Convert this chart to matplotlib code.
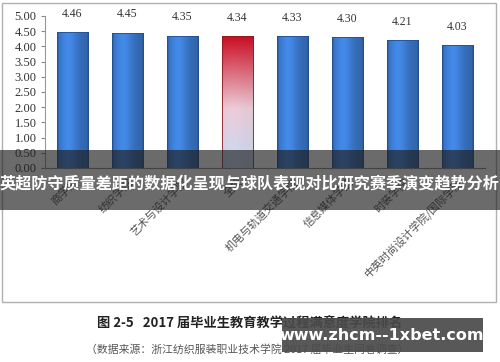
import numpy as np
import matplotlib
matplotlib.use("Agg")
import matplotlib.pyplot as plt
from matplotlib.patches import Rectangle

categories = ["商学院", "纺织学院", "艺术与设计学院", "全校", "机电与轨道交通学院",
              "信息媒体学院", "时装学院", "中英时尚设计学院/国际学院"]
values = [4.46, 4.45, 4.35, 4.34, 4.33, 4.30, 4.21, 4.03]
highlight = [False, False, False, True, False, False, False, False]
yticks = [0.0, 0.5, 1.0, 1.5, 2.0, 2.5, 3.0, 3.5, 4.0, 4.5, 5.0]
title = "英超防守质量差距的数据化呈现与球队表现对比研究赛季演变趋势分析"
caption = "图 2-5   2017 届毕业生教育教学过程满意度学院排名"
source = "（数据来源：浙江纺织服装职业技术学院 2017 届毕业生问卷调查）"
watermark = "www.zhcm--1xbet.com"

cjk = ["Noto Sans CJK SC", "DejaVu Sans"]
serif = ["Liberation Serif", "DejaVu Serif"]

fig = plt.figure(figsize=(5.0, 3.62), dpi=100)
fig.patch.set_facecolor("white")

# outer frame
fig.patches.append(Rectangle((2/500, 1-302/362), 494/500, 299/362, transform=fig.transFigure,
                             fill=False, edgecolor="#b0b0b0", lw=1.0, zorder=0))

ax = fig.add_axes([45/500, 1-168/362, 440/500, 152/362])
x = np.arange(len(values))
bars = ax.bar(x, values, width=0.58, color="#3f80d0", edgecolor="#24508f", linewidth=0.6, zorder=2)

# gradients
n = 64
u = np.linspace(0, 1, n)
hshade = 0.82 + 0.28 * np.exp(-((u - 0.35) / 0.3) ** 2)
hshade[:3] *= 0.8
hshade[-3:] *= 0.8
blue = np.array([0.24, 0.49, 0.83])
for b, hl in zip(bars, highlight):
    x0, w, h = b.get_x(), b.get_width(), b.get_height()
    if hl:
        v = np.linspace(0, 1, n)[:, None]  # 0 top -> 1 bottom
        top = np.array([0.80, 0.06, 0.14])
        mid = np.array([0.93, 0.80, 0.85])
        bot = np.array([0.78, 0.86, 0.96])
        t1 = np.clip(v / 0.55, 0, 1)
        t2 = np.clip((v - 0.55) / 0.45, 0, 1)
        col = np.where(v[..., None] < 0.55,
                       top * (1 - t1[..., None]) + mid * t1[..., None],
                       mid * (1 - t2[..., None]) + bot * t2[..., None])
        col = col * (0.9 + 0.1 * hshade[None, :, None] / hshade.max())
    else:
        col = np.ones((n, 1, 1)) * (blue[None, None, :] * hshade[None, :, None])
    col = np.clip(col, 0, 1)
    im = ax.imshow(col, extent=(x0, x0 + w, 0, h), aspect="auto", zorder=2.5,
                   interpolation="bilinear")
    im.set_clip_path(b)
    ax.add_patch(Rectangle((x0, 0), w, h, fill=False,
                           edgecolor=("#8c1a22" if hl else "#24508f"), lw=0.6, zorder=3))

for xi, v in zip(x, values):
    ax.annotate(f"{v:.2f}", (xi, v), xytext=(0, 9), textcoords="offset points",
                ha="center", va="bottom", fontsize=8.5, family=serif, color="#333333")

ax.set_xlim(-0.5, len(values) - 0.5)
ax.set_ylim(0, 5)
ax.set_yticks(yticks)
ax.set_yticklabels([f"{t:.2f}" for t in yticks], family=serif, fontsize=9, color="#333333")
ax.set_xticks(x)
ax.set_xticklabels(categories, rotation=45, ha="right", va="top", rotation_mode="anchor",
                   family=cjk, fontsize=7.8, color="#555555")
ax.tick_params(axis="y", direction="out", length=3, color="#888888", pad=3)
ax.tick_params(axis="x", length=0, pad=6)
for s in ["top", "right"]:
    ax.spines[s].set_visible(False)
ax.spines["left"].set_color("#999999")
ax.spines["bottom"].set_color("#888888")

# title band
fig.patches.append(Rectangle((0, 1-210/362), 1, 60/362, transform=fig.transFigure,
                             facecolor="#1e1e1e", alpha=0.66, edgecolor="none", zorder=10))
fig.text(0.5, 1-184/362, title, ha="center", va="center", fontsize=11.6, fontweight="bold",
         color="white", family=cjk, zorder=11)

fig.text(0.5, 1-323/362, caption, ha="center", va="center", fontsize=9.5, fontweight="bold",
         color="#222222", family=cjk)
fig.text(0.495, 1-349/362, source, ha="center", va="center", fontsize=7.8,
         color="#555555", family=cjk)

fig.patches.append(Rectangle((282/500, 1-352/362), 201/500, 34/362, transform=fig.transFigure,
                             facecolor="#4a4a4a", alpha=0.92, edgecolor="none", zorder=10))
fig.text(382/500, 1-335/362, watermark, ha="center", va="center", fontsize=11.5,
         fontweight="bold", color="white", family=["DejaVu Sans"], zorder=11)

fig.savefig("out.png", dpi=100)
